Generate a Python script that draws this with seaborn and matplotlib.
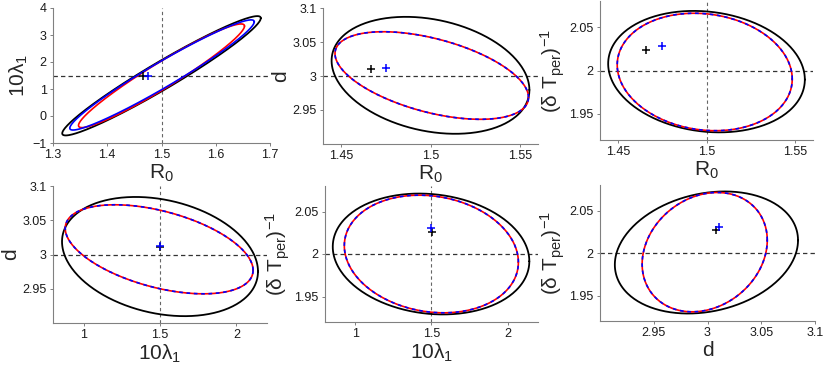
import numpy as np
import pandas as pd
import matplotlib
matplotlib.use("Agg")
import matplotlib.pyplot as plt
import seaborn as sns

sns.set_theme(style="ticks")
plt.rcParams["font.family"] = ["Liberation Sans", "DejaVu Sans"]
plt.rcParams["mathtext.default"] = "regular"

# --- axis labels / limits / ticks per panel ---
xlabels = ["R$_0$", "R$_0$", "R$_0$", "10λ$_1$", "10λ$_1$", "d"]
ylabels = ["10λ$_1$", "d", "(δ T$_{per}$)$^{-1}$", "d", "(δ T$_{per}$)$^{-1}$", "(δ T$_{per}$)$^{-1}$"]
xlims = [(1.3, 1.7), (1.44, 1.56), (1.44, 1.56), (0.8, 2.2), (0.8, 2.2), (2.9, 3.1)]
ylims = [(-1, 4), (2.9, 3.1), (1.92, 2.08), (2.9, 3.1), (1.92, 2.08), (1.92, 2.08)]
xticks = [[1.3, 1.4, 1.5, 1.6, 1.7], [1.45, 1.5, 1.55], [1.45, 1.5, 1.55],
          [1, 1.5, 2], [1, 1.5, 2], [2.95, 3, 3.05, 3.1]]
yticks = [[-1, 0, 1, 2, 3, 4], [2.95, 3, 3.05, 3.1], [1.95, 2, 2.05],
          [2.95, 3, 3.05, 3.1], [1.95, 2, 2.05], [1.95, 2, 2.05]]

# true parameter reference lines (None = not drawn)
hline_y = [1.5, 3, 2, 3, 2, 2]
vline_x = [1.5, None, 1.5, 1.5, 1.5, None]

# --- confidence ellipses: centre x, centre y, half-width x, half-width y, correlation ---
black_cx = [1.500, 1.500, 1.500, 1.500, 1.497, 2.999]
black_cy = [1.49, 3.001, 1.9987, 2.997, 2.000, 2.0006]
black_sx = [0.183, 0.0552, 0.0554, 0.641, 0.646, 0.0852]
black_sy = [2.21, 0.086, 0.0699, 0.087, 0.0711, 0.0718]
black_rho = [0.965, -0.25, -0.13, -0.25, -0.12, 0.2]

blue_cx = [1.501, 1.5007, 1.499, 1.4945, 1.499, 2.9974]
blue_cy = [1.52, 3.0007, 1.9983, 3.0076, 2.000, 2.001]
blue_sx = [0.170, 0.054, 0.0493, 0.6145, 0.572, 0.0582]
blue_sy = [2.04, 0.0644, 0.0676, 0.065, 0.0692, 0.0702]
blue_rho = [0.965, -0.5, -0.12, -0.47, -0.14, 0.2]

red_cx = [1.500, 1.5007, 1.499, 1.4945, 1.499, 2.9974]
red_cy = [1.49, 3.0007, 1.9983, 3.0076, 2.000, 2.001]
red_sx = [0.153, 0.054, 0.0493, 0.6145, 0.572, 0.0582]
red_sy = [1.92, 0.0644, 0.0676, 0.065, 0.0692, 0.0702]
red_rho = [0.958, -0.5, -0.12, -0.47, -0.14, 0.2]

# --- point estimates (+ markers) ---
black_px = [1.466, 1.4666, 1.466, 1.500, 1.504, 3.008]
black_py = [1.48, 3.010, 2.024, 3.011, 2.026, 2.027]
blue_px = [1.476, 1.4752, 1.475, 1.500, 1.500, 3.011]
blue_py = [1.48, 3.012, 2.028, 3.012, 2.031, 2.031]

# axes boxes in pixels (left, top, right, bottom) on the 825x373 canvas
boxes = [(53, 8, 270, 143), (323, 8, 538, 144), (600, 1, 813, 140),
         (53, 186, 267, 323), (325, 186, 538, 322), (600, 185, 815, 321)]

W, H = 825, 373
t = np.linspace(0, 2 * np.pi, 300)


def ellipse(cx, cy, sx, sy, rho):
    x = cx + sx * np.cos(t)
    y = cy + sy * (rho * np.cos(t) + np.sqrt(1 - rho ** 2) * np.sin(t))
    return pd.DataFrame({"x": x, "y": y})


fig = plt.figure(figsize=(W / 100, H / 100), dpi=100)
spine_col = "0.5"

for i in range(6):
    l, tp, r, b = boxes[i]
    ax = fig.add_axes([l / W, 1 - b / H, (r - l) / W, (b - tp) / H])

    if vline_x[i] is not None:
        ax.axvline(vline_x[i], color="0.4", lw=0.8, dashes=(3, 2.5), zorder=1)
    ax.axhline(hline_y[i], color="0.2", lw=0.9, dashes=(3.5, 2.5), zorder=1)

    e = ellipse(black_cx[i], black_cy[i], black_sx[i], black_sy[i], black_rho[i])
    sns.lineplot(data=e, x="x", y="y", sort=False, estimator=None, ax=ax,
                 color="black", lw=1.3, zorder=3)
    e = ellipse(red_cx[i], red_cy[i], red_sx[i], red_sy[i], red_rho[i])
    sns.lineplot(data=e, x="x", y="y", sort=False, estimator=None, ax=ax,
                 color="red", lw=1.2, zorder=4)
    e = ellipse(blue_cx[i], blue_cy[i], blue_sx[i], blue_sy[i], blue_rho[i])
    if i == 0:
        sns.lineplot(data=e, x="x", y="y", sort=False, estimator=None, ax=ax,
                     color="blue", lw=1.2, zorder=5)
    else:
        sns.lineplot(data=e, x="x", y="y", sort=False, estimator=None, ax=ax,
                     color="blue", lw=1.2, linestyle=(0, (2.2, 2.2)), zorder=5)

    sns.scatterplot(x=[black_px[i]], y=[black_py[i]], ax=ax, marker="+",
                    color="black", s=40, linewidth=1.1, zorder=6)
    sns.scatterplot(x=[blue_px[i]], y=[blue_py[i]], ax=ax, marker="+",
                    color="blue", s=40, linewidth=1.1, zorder=6)

    ax.set_xlim(*xlims[i])
    ax.set_ylim(*ylims[i])
    ax.set_xticks(xticks[i], labels=[f"{v:g}".replace("-", "\u2212") for v in xticks[i]])
    ax.set_yticks(yticks[i], labels=[f"{v:g}".replace("-", "\u2212") for v in yticks[i]])
    ax.tick_params(labelsize=9, length=2.5, width=0.7, color=spine_col,
                   labelcolor="0.1", pad=2)
    ax.set_xlabel(xlabels[i], fontsize=15, labelpad=1)
    ax.set_ylabel(ylabels[i], fontsize=15, labelpad=2)
    sns.despine(ax=ax)
    for sp in ("left", "bottom"):
        ax.spines[sp].set_color(spine_col)
        ax.spines[sp].set_linewidth(0.8)

fig.savefig("out.png", dpi=100)
